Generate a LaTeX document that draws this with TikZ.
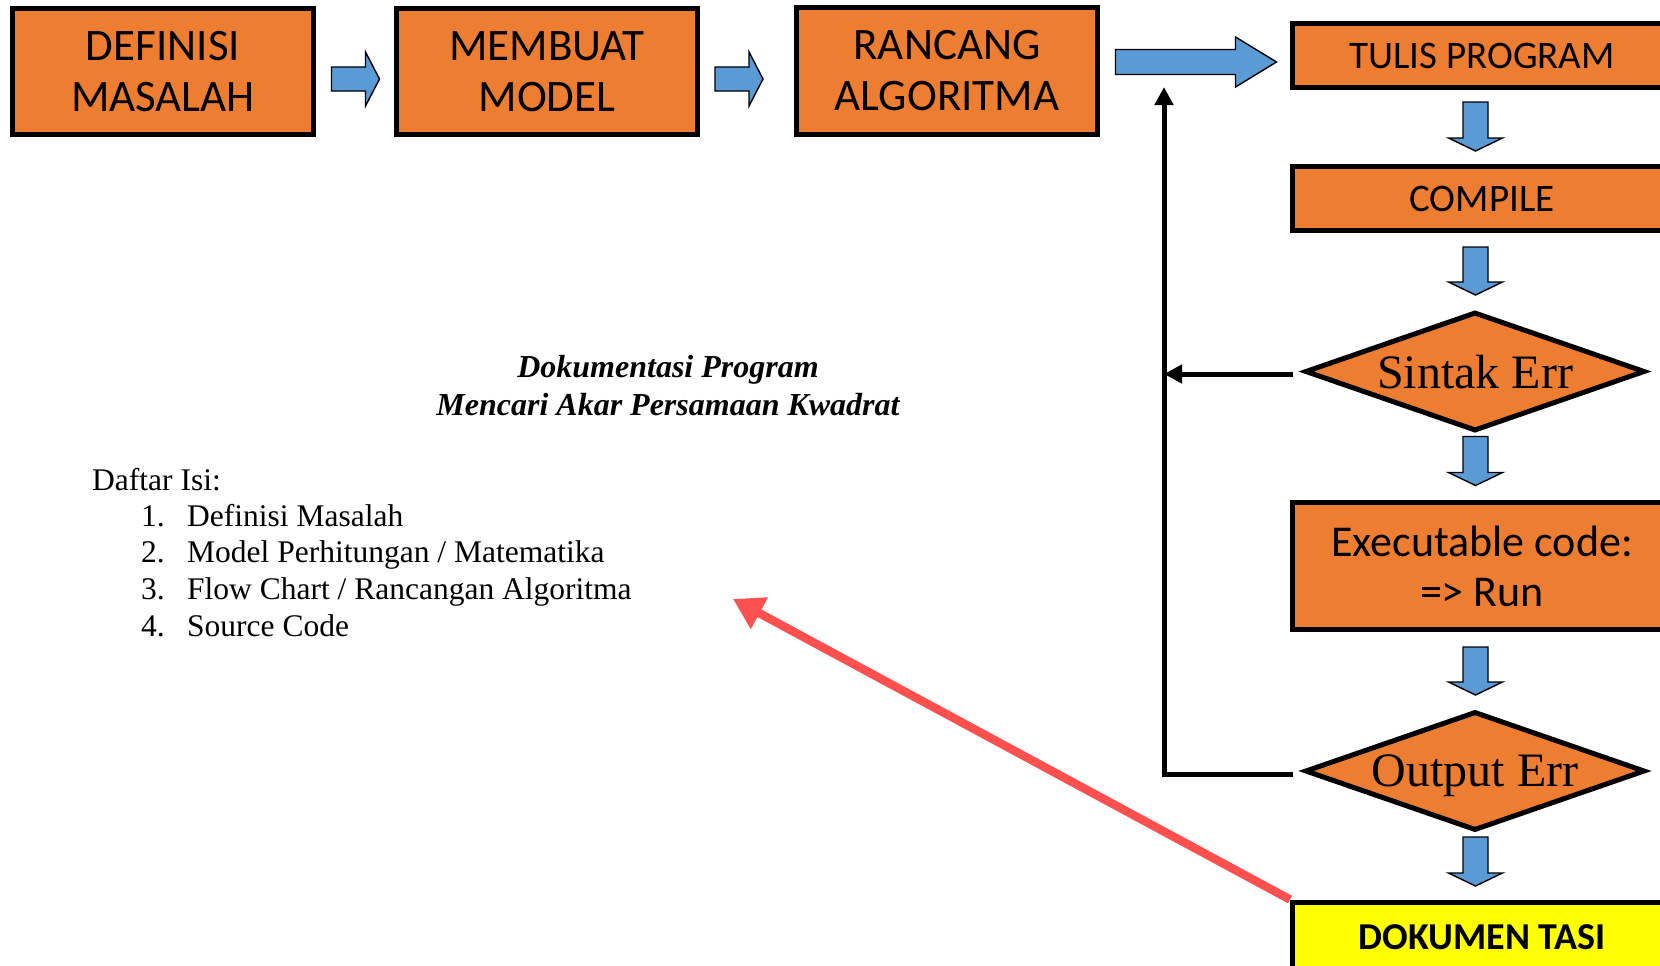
\documentclass[tikz,border=0pt]{standalone}
\usepackage{fontspec}
\usetikzlibrary{shapes.geometric,arrows.meta,calc}
\newfontfamily\boxfont{Carlito}
\newfontfamily\docfont{Liberation Serif}
\definecolor{boxorange}{HTML}{ED7D31}
\definecolor{flowblue}{HTML}{5B9BD5}
\definecolor{docyellow}{HTML}{FFFF00}
\definecolor{linkred}{HTML}{FF5050}

\begin{document}
\begin{tikzpicture}[x=1pt,y=-1pt,
  stepbox/.style={draw=black, line width=5pt, fill=boxorange, inner sep=0pt,
    align=center, text=black},
  topbox/.style={stepbox, minimum width=301pt, minimum height=126pt,
    font=\boxfont\fontsize{45}{51}\selectfont},
  colbox/.style={stepbox, minimum width=379pt,
    font=\boxfont\fontsize{39}{46}\selectfont},
  decision/.style={diamond, draw=black, line width=5pt, fill=boxorange,
    inner sep=0pt, aspect=2.83, minimum width=340pt, minimum height=119pt,
    text depth=0pt, font=\docfont\fontsize{48}{52}\selectfont},
  blockarrow/.style={draw=black, fill=flowblue, line width=1.4pt, line join=miter},
  loopline/.style={draw=black, line width=5pt, line join=miter},
  looptip/.style={-{Triangle[length=18pt,width=18pt]}},
  redlink/.style={draw=linkred, line width=8.5pt,
    -{Triangle[length=30pt,width=34pt]}},
  doctext/.style={font=\docfont\fontsize{31.5}{36}\selectfont, inner sep=0pt},
  % horizontal block arrow: length, shaft half width, head half width, head length
  pics/rblock/.style n args={4}{code={
    \draw[blockarrow] (0,-#2) -- ({#1-#4},-#2) -- ({#1-#4},-#3) -- (#1,0)
      -- ({#1-#4},#3) -- ({#1-#4},#2) -- (0,#2) -- cycle;}},
  % downward block arrow: length, shaft half width, head half width, head length
  pics/dblock/.style n args={4}{code={
    \draw[blockarrow] (-#2,0) -- (-#2,{#1-#4}) -- (-#3,{#1-#4}) -- (0,#1)
      -- (#3,{#1-#4}) -- (#2,{#1-#4}) -- (#2,0) -- cycle;}},
]
\useasboundingbox (0,0) rectangle (1660,966);
\clip (0,0) rectangle (1660,966);
\fill[white] (0,0) rectangle (1660,966);

% top row of steps
\node[topbox] (def) at (163,71.5) {DEFINISI\\MASALAH};
\node[topbox] (mod) at (547,71.5) {MEMBUAT\\MODEL};
\node[topbox, minimum height=127pt] (alg) at (947,71) {RANCANG\\ALGORITMA};

% right-hand column
\node[colbox, minimum height=64pt] (tulis) at (1482,55.5) {TULIS PROGRAM};
\node[colbox, minimum height=64pt] (comp) at (1482,198.5) {COMPILE};
\node[decision] (serr) at (1475,371.5) {Sintak Err};
\node[colbox, minimum height=127pt, font=\boxfont\fontsize{44}{50}\selectfont]
  (exe) at (1482,566) {Executable code:\\=> Run};
\node[decision] (oerr) at (1475,771) {Output Err};
\node[stepbox, fill=docyellow, minimum width=379pt, minimum height=70pt,
  text depth=0pt, font=\boxfont\bfseries\fontsize{38}{44}\selectfont]
  (doc) at (1482,937) {DOKUMEN TASI};

% block arrows between the steps
\coordinate (col) at (1475.5,0);
\pic at ($(def.east)+(15.5,7.5)$) {rblock={48}{12}{27}{14}};
\pic at ($(mod.east)+(15,7.5)$) {rblock={48}{12}{27}{14}};
\pic at ($(alg.east)+(15.5,-9)$) {rblock={161}{12.5}{25}{41}};
\pic at ($(tulis.south -| col)+(0,12)$) {dblock={49}{12.5}{27}{13}};
\pic at ($(comp.south -| col)+(0,14)$) {dblock={48}{12.5}{27}{13}};
\pic at ($(serr.south -| col)+(0,3)$) {dblock={49}{12.5}{27}{13}};
\pic at ($(exe.south -| col)+(0,15)$) {dblock={48}{12.5}{27}{13}};
\pic at ($(oerr.south -| col)+(0,4)$) {dblock={49}{12.5}{27}{13}};

% feedback loop back to the design step
\coordinate (loopx) at (1164,0);
\coordinate (looptop) at (1164,87);
\draw[loopline, looptip] ($(serr.west)+(-10,2.5)$) -- ($(serr.west -| loopx)+(0,2.5)$);
\draw[loopline, looptip] ($(oerr.west)+(-10,3)$) -- ($(oerr.west -| loopx)+(0,3)$)
  -- (looptop);

% documentation page
\node[font=\docfont\bfseries\itshape\fontsize{32}{38}\selectfont, inner sep=0pt,
  anchor=base] (title1) at (668,377) {Dokumentasi Program};
\node[font=\docfont\bfseries\itshape\fontsize{32}{38}\selectfont, inner sep=0pt,
  anchor=base] (title2) at (668,415) {Mencari Akar Persamaan Kwadrat};
\node[doctext, anchor=base west] (toc) at (92,490) {Daftar Isi:};
\node[doctext, anchor=base west] (n1) at (141,526) {1.};
\node[doctext, anchor=base west] (i1) at (187,526) {Definisi Masalah};
\node[doctext, anchor=base west] (n2) at (141,562) {2.};
\node[doctext, anchor=base west] (i2) at (187,562) {Model Perhitungan / Matematika};
\node[doctext, anchor=base west] (n3) at (141,599) {3.};
\node[doctext, anchor=base west] (i3) at (187,599) {Flow Chart / Rancangan Algoritma};
\node[doctext, anchor=base west] (n4) at (141,636) {4.};
\node[doctext, anchor=base west] (i4) at (187,636) {Source Code};

% pointer from the documentation step to the contents list
\coordinate (listtip) at (733,599);
\draw[redlink] (doc.north west) -- (listtip);
\end{tikzpicture}
\end{document}
